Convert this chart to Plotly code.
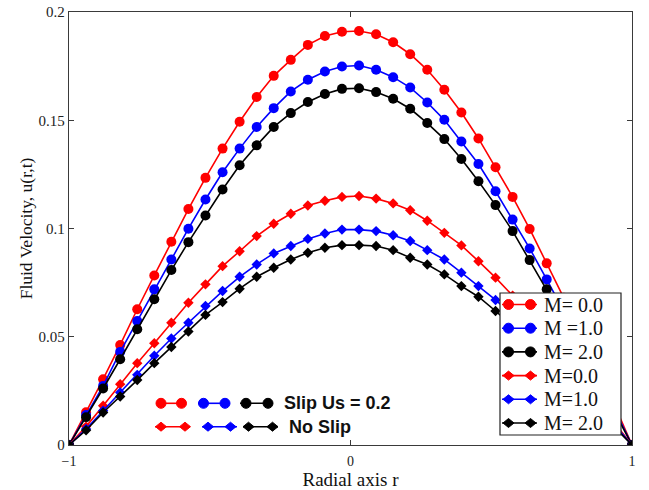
import plotly.graph_objects as go

# Radial positions (34 nodes across the pipe, r = -1 ... 1)
r_nodes = [-1.0, -0.9394, -0.8788, -0.8182, -0.7576, -0.6970, -0.6364, -0.5758,
           -0.5152, -0.4545, -0.3939, -0.3333, -0.2727, -0.2121, -0.1515, -0.0909,
           -0.0303, 0.0303, 0.0909, 0.1515, 0.2121, 0.2727, 0.3333, 0.3939,
           0.4545, 0.5152, 0.5758, 0.6364, 0.6970, 0.7576, 0.8182, 0.8788,
           0.9394, 1.0]

# Velocity profiles with slip (Us = 0.2)
slip_m0 = [0.0, 0.0151, 0.0304, 0.0462, 0.0627, 0.0783, 0.0939, 0.1090, 0.1234,
           0.1369, 0.1493, 0.1607, 0.1705, 0.1779, 0.1848, 0.1889, 0.1909, 0.1912,
           0.1897, 0.1860, 0.1805, 0.1733, 0.1641, 0.1536, 0.1416, 0.1283, 0.1146,
           0.0998, 0.0839, 0.0680, 0.0520, 0.0350, 0.0180, 0.0]
slip_m1 = [0.0, 0.0138, 0.0273, 0.0430, 0.0573, 0.0719, 0.0857, 0.0999, 0.1134,
           0.1260, 0.1369, 0.1469, 0.1556, 0.1633, 0.1687, 0.1725, 0.1748, 0.1753,
           0.1733, 0.1699, 0.1651, 0.1582, 0.1502, 0.1402, 0.1298, 0.1172, 0.1041,
           0.0908, 0.0765, 0.0620, 0.0470, 0.0320, 0.0160, 0.0]
slip_m2 = [0.0, 0.0128, 0.0261, 0.0396, 0.0535, 0.0673, 0.0808, 0.0937, 0.1060,
           0.1180, 0.1292, 0.1384, 0.1469, 0.1533, 0.1584, 0.1621, 0.1645, 0.1648,
           0.1630, 0.1599, 0.1553, 0.1487, 0.1413, 0.1321, 0.1218, 0.1108, 0.0988,
           0.0854, 0.0719, 0.0580, 0.0440, 0.0300, 0.0150, 0.0]

# Velocity profiles without slip
noslip_m0 = [0.0, 0.0085, 0.0181, 0.0281, 0.0378, 0.0470, 0.0565, 0.0657, 0.0742,
             0.0826, 0.0895, 0.0965, 0.1022, 0.1068, 0.1106, 0.1128, 0.1146, 0.1150,
             0.1138, 0.1116, 0.1084, 0.1036, 0.0980, 0.0922, 0.0849, 0.0773, 0.0690,
             0.0600, 0.0500, 0.0400, 0.0300, 0.0200, 0.0100, 0.0]
noslip_m1 = [0.0, 0.0074, 0.0158, 0.0243, 0.0324, 0.0412, 0.0492, 0.0565, 0.0642,
             0.0711, 0.0777, 0.0834, 0.0885, 0.0919, 0.0952, 0.0977, 0.0995, 0.0995,
             0.0988, 0.0969, 0.0942, 0.0900, 0.0857, 0.0796, 0.0734, 0.0670, 0.0600,
             0.0520, 0.0440, 0.0350, 0.0270, 0.0180, 0.0090, 0.0]
noslip_m2 = [0.0, 0.0068, 0.0150, 0.0224, 0.0300, 0.0378, 0.0453, 0.0524, 0.0601,
             0.0660, 0.0722, 0.0777, 0.0819, 0.0857, 0.0888, 0.0911, 0.0923, 0.0923,
             0.0919, 0.0900, 0.0865, 0.0834, 0.0788, 0.0734, 0.0685, 0.0619, 0.0550,
             0.0480, 0.0400, 0.0320, 0.0250, 0.0170, 0.0080, 0.0]

legend_labels = ["M= 0.0", "M =1.0", "M= 2.0", "M=0.0", "M=1.0", "M= 2.0"]
colors = ["#ff0000", "#0000ff", "#000000"]

x_tickvals = [-1, 0, 1]
x_ticktext = ["\u22121", "0", "1"]
y_tickvals = [0, 0.05, 0.1, 0.15, 0.2]
y_ticktext = ["0", "0.05", "0.1", "0.15", "0.2"]

W, H = 649, 490
ML, MR, MT, MB = 69, 17, 12, 45
PW, PH = W - ML - MR, H - MT - MB

SERIF = "Liberation Serif, Times New Roman, serif"
AXIS_COLOR = "#3a3a3a"

fig = go.Figure()

slip_sets = [slip_m0, slip_m1, slip_m2]
noslip_sets = [noslip_m0, noslip_m1, noslip_m2]

for i, ys in enumerate(slip_sets):
    fig.add_trace(go.Scatter(
        x=r_nodes, y=ys, mode="lines+markers", name=legend_labels[i],
        line=dict(color=colors[i], width=1.6),
        marker=dict(symbol="circle", size=10, color=colors[i]),
        showlegend=False,
    ))
for i, ys in enumerate(noslip_sets):
    fig.add_trace(go.Scatter(
        x=r_nodes, y=ys, mode="lines+markers", name=legend_labels[3 + i],
        line=dict(color=colors[i], width=1.6),
        marker=dict(symbol="diamond", size=8, color=colors[i]),
        showlegend=False,
    ))


# helpers: pixel position in the page -> paper fraction
def fx(p):
    return (p - ML) / PW


def fy(p):
    return (H - MB - p) / PH


shapes = []
annotations = []


def sample(x0, x1, y, color, symbol, m0, m1):
    """Line sample with two markers, drawn as layout shapes."""
    shapes.append(dict(type="line", xref="paper", yref="paper",
                       x0=fx(x0), x1=fx(x1), y0=fy(y), y1=fy(y),
                       line=dict(color=color, width=1.6), layer="above"))
    for m in (m0, m1):
        if symbol == "circle":
            shapes.append(dict(type="circle", xref="paper", yref="paper",
                               xsizemode="pixel", ysizemode="pixel",
                               xanchor=fx(m), yanchor=fy(y),
                               x0=-5, x1=5, y0=-5, y1=5,
                               fillcolor=color, line=dict(color=color, width=1),
                               layer="above"))
        else:
            shapes.append(dict(type="path", xref="paper", yref="paper",
                               xsizemode="pixel", ysizemode="pixel",
                               xanchor=fx(m), yanchor=fy(y),
                               path="M -5.5 0 L 0 4.5 L 5.5 0 L 0 -4.5 Z",
                               fillcolor=color, line=dict(color=color, width=1),
                               layer="above"))


# legend box
shapes.append(dict(type="rect", xref="paper", yref="paper",
                   x0=fx(500), x1=fx(621), y0=fy(435), y1=fy(293),
                   fillcolor="white", line=dict(color="#222222", width=1.2),
                   layer="above"))
row_y = [304.5, 328.2, 351.9, 375.6, 399.3, 423.0]
for k in range(6):
    sym = "circle" if k < 3 else "diamond"
    sample(502, 537, row_y[k], colors[k % 3], sym, 508.5, 530.5)
    annotations.append(dict(text=legend_labels[k], xref="paper", yref="paper",
                            x=fx(542), y=fy(row_y[k]), xanchor="left", yanchor="middle",
                            showarrow=False,
                            font=dict(family=SERIF, size=20, color="#111111")))

# in-plot key: slip vs. no slip
sample(156, 186, 403.3, colors[0], "circle", 161, 181.5)
sample(198, 230, 403.3, colors[1], "circle", 203.5, 225)
sample(240, 273, 403.3, colors[2], "circle", 246, 268)
sample(155, 190, 426.7, colors[0], "diamond", 161, 185)
sample(202, 237, 426.7, colors[1], "diamond", 208, 230.5)
sample(243, 278, 426.7, colors[2], "diamond", 248.5, 272.5)
annotations.append(dict(text="<b>Slip Us = 0.2</b>", xref="paper", yref="paper",
                        x=fx(282), y=fy(403), xanchor="left", yanchor="middle",
                        showarrow=False,
                        font=dict(family="Liberation Sans, Arial, sans-serif",
                                  size=18, color="#111111")))
annotations.append(dict(text="<b>No Slip</b>", xref="paper", yref="paper",
                        x=fx(287), y=fy(427), xanchor="left", yanchor="middle",
                        showarrow=False,
                        font=dict(family="Liberation Sans, Arial, sans-serif",
                                  size=18, color="#111111")))

axis_common = dict(
    showgrid=False, zeroline=False, showline=True, mirror="ticks",
    linecolor=AXIS_COLOR, linewidth=1.3, ticks="inside", ticklen=5,
    tickcolor=AXIS_COLOR, tickwidth=1.2,
)

fig.update_layout(
    width=W, height=H,
    margin=dict(l=ML, r=MR, t=MT, b=MB, pad=0),
    paper_bgcolor="white", plot_bgcolor="white",
    showlegend=False,
    xaxis=dict(range=[-1, 1], tickvals=x_tickvals, ticktext=x_ticktext,
               tickfont=dict(family=SERIF, size=14, color="#222222"),
               ticklabelstandoff=3,
               title=dict(text="Radial axis r", standoff=0,
                          font=dict(family=SERIF, size=19, color="#111111")),
               automargin=False, **axis_common),
    yaxis=dict(range=[0, 0.2], tickvals=y_tickvals, ticktext=y_ticktext,
               tickfont=dict(family=SERIF, size=15, color="#222222"),
               title=dict(text="Fluid Velocity, u(r,t)", standoff=1,
                          font=dict(family=SERIF, size=17.5, color="#111111")),
               automargin=False, **axis_common),
    shapes=shapes,
    annotations=annotations,
)

fig.write_html("out.html")
